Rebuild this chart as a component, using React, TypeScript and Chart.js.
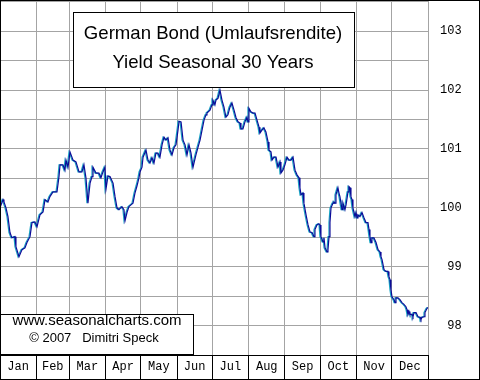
import React, { useEffect, useRef } from 'react';
import { Chart, registerables } from 'chart.js';

Chart.register(...registerables);

const months = ['Jan', 'Feb', 'Mar', 'Apr', 'May', 'Jun', 'Jul', 'Aug', 'Sep', 'Oct', 'Nov', 'Dec'];
const monthStarts = [0, 31, 59, 90, 120, 151, 181, 212, 243, 273, 304, 334, 365];
const yTicks = [97.5, 98, 98.5, 99, 99.5, 100, 100.5, 101, 101.5, 102, 102.5, 103, 103.5];
const titleLines = ['German Bond (Umlaufsrendite)', 'Yield Seasonal 30 Years'];
const creditLines = ['www.seasonalcharts.com', '\u00A9 2007   Dimitri Speck'];

const days = [
  0, 2.6, 3.4, 5.1, 6.8, 8.5, 10.2, 12.8, 13.6, 16.2, 18.8, 21.3, 23.0, 25.6, 27.3, 29.8,
  31.6, 34.1, 36.7, 38.4, 40.9, 42.6, 45.2, 48.6, 50.3, 51.2, 53.7, 55.4, 56.3, 58.0,
  59.7, 62.3, 64.8, 67.4, 69.9, 71.6, 73.3, 75.0, 76.8, 78.5, 79.3, 81.9, 84.4, 86.1, 87.8,
  89.5, 90.4, 92.1, 93.8, 96.4, 98.1, 99.8, 101.5, 104.0, 105.7, 106.6, 108.3, 110.0, 111.7,
  113.4, 115.1, 116.8, 118.5, 119.4, 121.1, 122.0, 124.5, 126.2, 127.9, 129.6, 131.3, 133.0,
  134.7, 136.4, 138.2, 139.9, 141.6, 143.3, 145.0, 146.7, 148.4, 150.1, 151.8, 152.7, 154.4,
  156.1, 157.8, 159.5, 161.2, 162.9, 164.6, 167.1, 168.9, 170.6, 172.3, 174.0, 175.7, 176.5,
  179.1, 180.8, 181.6, 183.3, 184.2, 185.9, 187.6, 189.3, 191.0, 192.7, 194.4, 196.1, 197.8,
  199.6, 201.3, 203.0, 204.7, 205.5, 207.2, 208.9, 210.6, 211.5, 212.3, 214.0, 215.8, 217.5,
  219.2, 220.9, 221.7, 223.4, 225.1, 226.8, 228.6, 229.4, 231.1, 232.0, 233.7, 235.4, 237.1,
  238.8, 239.6, 241.3, 243.0, 244.8, 246.5, 248.2, 249.9, 251.6, 253.3, 255.0, 255.8, 256.7,
  258.4, 259.2, 261.0, 262.7, 264.4, 266.1, 267.8, 268.6, 270.3, 272.0, 272.9, 273.7, 275.5,
  276.3, 277.2, 278.9, 279.7, 280.6, 281.4, 282.3, 284.0, 284.8, 285.7, 286.5, 288.2, 289.1,
  289.9, 290.8, 291.7, 292.5, 294.2, 295.1, 296.8, 297.6, 298.5, 299.3, 300.2, 301.0, 302.7,
  303.6, 304.5, 305.3, 307.0, 308.7, 310.4, 312.1, 313.8, 314.7, 315.5, 316.4, 317.2, 318.9,
  320.7, 322.4, 324.1, 324.9, 325.8, 327.5, 329.2, 330.9, 331.7, 332.6, 333.4, 334.3, 336.0,
  336.9, 337.7, 339.4, 341.1, 342.8, 344.5, 346.2, 347.1, 347.9, 348.8, 349.6, 351.4, 352.2,
  353.1, 354.8, 356.5, 358.2, 359.0, 359.9, 361.6, 362.4, 364.1, 365.0,
];

const yields = [
  100.0, 100.14, 100.1, 100.0, 99.85, 99.58, 99.49, 99.51, 99.34, 99.17, 99.29, 99.32, 99.41, 99.51, 99.75, 99.76,
  99.68, 99.88, 99.93, 100.14, 100.1, 100.19, 100.27, 100.27, 100.53, 100.73, 100.73, 100.64, 100.81, 100.69,
  100.95, 100.81, 100.78, 100.61, 100.61, 100.73, 100.51, 100.08, 100.42, 100.53, 100.69, 100.59, 100.59, 100.51, 100.61,
  100.69, 100.32, 100.54, 100.53, 100.42, 100.19, 100.0, 99.97, 100.02, 99.97, 99.78, 99.92, 100.02, 100.05,
  100.08, 100.25, 100.37, 100.51, 100.61, 100.69, 100.86, 100.98, 100.81, 100.76, 100.85, 100.76, 100.93,
  100.93, 100.86, 101.07, 101.2, 101.15, 101.19, 100.98, 100.9, 101.02, 101.07, 101.32, 101.47, 101.46,
  101.15, 101.07, 100.9, 101.07, 100.93, 100.69, 100.9, 101.03, 101.15, 101.32, 101.49, 101.58, 101.61,
  101.66, 101.75, 101.83, 101.75, 101.83, 101.86, 102.0, 101.83, 101.71, 101.54, 101.58, 101.71, 101.78,
  101.66, 101.53, 101.46, 101.44, 101.34, 101.34, 101.46, 101.54, 101.46, 101.69, 101.63, 101.61, 101.61,
  101.49, 101.37, 101.27, 101.32, 101.36, 101.29, 101.12, 100.98, 100.95, 100.81, 100.86, 100.86, 100.69,
  100.78, 100.59, 100.64, 100.73, 100.86, 100.81, 100.81, 100.86, 100.64, 100.56, 100.51, 100.34, 100.22,
  100.25, 100.08, 99.88, 99.71, 99.59, 99.58, 99.51, 99.63, 99.71, 99.73, 99.71, 99.51, 99.42,
  99.49, 99.32, 99.25, 99.29, 99.51, 99.75, 100.0, 100.08, 100.1, 100.08, 100.22, 100.34, 100.25,
  100.19, 100.08, 99.97, 100.08, 99.97, 100.05, 100.27, 100.36, 100.34, 100.19, 100.14, 100.0, 99.85,
  99.92, 99.83, 99.88, 99.85, 99.92, 99.83, 99.75, 99.75, 99.63, 99.51, 99.41, 99.49, 99.49,
  99.41, 99.29, 99.25, 99.17, 99.12, 98.95, 98.92, 98.92, 98.83, 98.78, 98.61, 98.49, 98.44,
  98.39, 98.47, 98.47, 98.44, 98.39, 98.36, 98.32, 98.27, 98.19, 98.24, 98.19, 98.19, 98.15,
  98.22, 98.22, 98.15, 98.14, 98.1, 98.14, 98.15, 98.22, 98.29, 98.31,
];

const axisFont = { family: '"Liberation Mono", monospace', size: 12 };

const decorPlugin = {
  id: 'decor',
  beforeDraw(chart: any) {
    const ctx = chart.ctx;
    ctx.save();
    ctx.fillStyle = '#ffffff';
    ctx.fillRect(0, 0, chart.width, chart.height);
    ctx.restore();
  },
  beforeDatasetDraw(chart: any) {
    const ctx = chart.ctx;
    ctx.save();
    ctx.shadowColor = '#1aa6c4';
    ctx.shadowOffsetX = -1;
    ctx.shadowOffsetY = 0;
    ctx.shadowBlur = 0;
  },
  afterDatasetDraw(chart: any) {
    chart.ctx.restore();
  },
  afterDraw(chart: any) {
    const ctx = chart.ctx;
    ctx.save();
    ctx.lineWidth = 1;
    ctx.strokeStyle = '#000';
    // title box
    ctx.fillStyle = '#fff';
    ctx.fillRect(73.5, 12.5, 281, 75);
    ctx.strokeRect(73.5, 12.5, 281, 75);
    ctx.fillStyle = '#000';
    ctx.textAlign = 'center';
    ctx.textBaseline = 'middle';
    ctx.font = '18.6px "Liberation Sans", Arial, sans-serif';
    ctx.fillText(titleLines[0], 213, 34);
    ctx.fillText(titleLines[1], 213, 63);
    // credit box
    ctx.fillStyle = '#fff';
    ctx.fillRect(0.5, 314.5, 193, 40);
    ctx.strokeRect(0.5, 314.5, 193, 40);
    ctx.fillStyle = '#000';
    ctx.font = '15px "Liberation Sans", Arial, sans-serif';
    ctx.fillText(creditLines[0], 97, 321);
    ctx.font = '13px "Liberation Sans", Arial, sans-serif';
    ctx.fillText(creditLines[1], 94, 338);
    // outer border
    ctx.strokeRect(0.5, 0.5, chart.width - 1, chart.height - 1);
    ctx.restore();
  },
};

export default function App() {
  const ref = useRef<HTMLCanvasElement | null>(null);

  useEffect(() => {
    document.body.style.margin = '0';
    const canvas = ref.current;
    if (!canvas) return;
    const monthMids = months.map((_, i) => (monthStarts[i] + monthStarts[i + 1]) / 2);
    const chart = new Chart(canvas, {
      type: 'line',
      data: {
        datasets: [
          {
            data: days.map((d, i) => ({ x: d, y: yields[i] })),
            borderColor: '#0c0c98',
            borderWidth: 1.2,
            pointRadius: 0,
            tension: 0,
            fill: false,
          },
        ],
      },
      options: {
        responsive: false,
        animation: false,
        devicePixelRatio: 1,
        layout: { padding: 0 },
        plugins: { legend: { display: false }, tooltip: { enabled: false }, title: { display: false } },
        scales: {
          x: {
            type: 'linear',
            position: 'bottom',
            weight: 0,
            min: 0,
            max: 365,
            afterBuildTicks: (s: any) => {
              s.ticks = monthStarts.map((v) => ({ value: v }));
            },
            afterFit: (s: any) => {
              s.height = 0;
            },
            ticks: { display: false },
            grid: { color: '#a4a4a4', lineWidth: 1, drawTicks: true, tickLength: 25, tickColor: '#000', tickWidth: 1 },
            border: { display: true, color: '#000', width: 1 },
          },
          x2: {
            type: 'linear',
            position: 'bottom',
            weight: 1,
            min: 0,
            max: 365,
            afterBuildTicks: (s: any) => {
              s.ticks = monthMids.map((v) => ({ value: v }));
            },
            afterFit: (s: any) => {
              s.height = 25;
              s.paddingLeft = 0;
              s.paddingRight = 0;
            },
            ticks: {
              autoSkip: false,
              maxRotation: 0,
              minRotation: 0,
              padding: 5,
              color: '#000',
              font: axisFont,
              callback: (_v: any, i: number) => months[i],
            },
            grid: { display: false, drawTicks: false },
            border: { display: false },
          },
          y: {
            type: 'linear',
            position: 'right',
            min: 97.5,
            max: 103.53,
            afterBuildTicks: (s: any) => {
              s.ticks = yTicks.map((v) => ({ value: v }));
            },
            afterFit: (s: any) => {
              s.width = 52;
              s.paddingTop = 0;
              s.paddingBottom = 0;
            },
            ticks: {
              crossAlign: 'near',
              padding: 12,
              color: '#000',
              font: axisFont,
              callback: (v: any) => (Number.isInteger(v) ? (v < 100 ? ' ' + v : String(v)) : ''),
            },
            grid: { color: '#a4a4a4', lineWidth: 1, drawTicks: false },
            border: { display: false },
          },
        },
      },
      plugins: [decorPlugin],
    } as any);
    return () => chart.destroy();
  }, []);

  return (
    <div style={{ width: 480, height: 380 }}>
      <canvas ref={ref} width={480} height={380} style={{ display: 'block', width: 480, height: 380 }} />
    </div>
  );
}
